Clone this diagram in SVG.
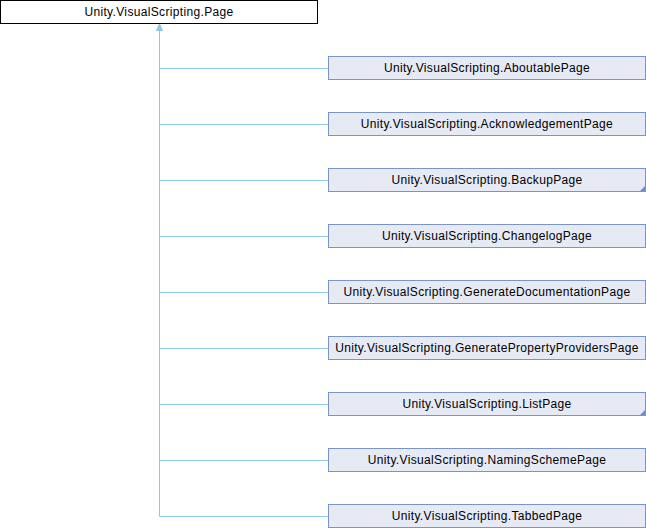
<svg xmlns="http://www.w3.org/2000/svg" width="646" height="528" viewBox="0 0 646 528">
<style>
.n rect{fill:#e6eaf5;stroke:#7a93c9;stroke-width:1}
.root rect{fill:#ffffff;stroke:#000000;stroke-width:1}
text{font-family:"Liberation Sans",Arial,sans-serif;font-size:12px;letter-spacing:0.34px;fill:#000;text-anchor:middle}
.e{fill:none;stroke:#8cc7e8;stroke-width:1}
.mark{fill:#6f8cc8}
</style>
<rect width="646" height="528" fill="#ffffff"/>
<g id="connectors">
<path class="e" d="M159.5,30 V516.5"/>
<path class="e" d="M159.5,68.5 H328"/>
<path class="e" d="M159.5,124.5 H328"/>
<path class="e" d="M159.5,180.5 H328"/>
<path class="e" d="M159.5,236.5 H328"/>
<path class="e" d="M159.5,292.5 H328"/>
<path class="e" d="M159.5,348.5 H328"/>
<path class="e" d="M159.5,404.5 H328"/>
<path class="e" d="M159.5,460.5 H328"/>
<path class="e" d="M159.5,516.5 H328"/>
<polygon points="159.5,24 156.5,30.5 162.5,30.5" fill="#8cc7e8" stroke="#8cc7e8" stroke-width="1"/>
</g>
<g id="Page" class="root"><rect x="0.5" y="0.5" width="317" height="23"/><text x="159" y="16">Unity.VisualScripting.Page</text></g>
<g id="AboutablePage" class="n"><rect x="328.5" y="56.5" width="317" height="23"/><text x="487" y="72">Unity.VisualScripting.AboutablePage</text></g>
<g id="AcknowledgementPage" class="n"><rect x="328.5" y="112.5" width="317" height="23"/><text x="487" y="128">Unity.VisualScripting.AcknowledgementPage</text></g>
<g id="BackupPage" class="n"><rect x="328.5" y="168.5" width="317" height="23"/><text x="487" y="184">Unity.VisualScripting.BackupPage</text><polygon class="mark" points="645,186 645,191 640,191"/></g>
<g id="ChangelogPage" class="n"><rect x="328.5" y="224.5" width="317" height="23"/><text x="487" y="240">Unity.VisualScripting.ChangelogPage</text></g>
<g id="GenerateDocumentationPage" class="n"><rect x="328.5" y="280.5" width="317" height="23"/><text x="487" y="296">Unity.VisualScripting.GenerateDocumentationPage</text></g>
<g id="GeneratePropertyProvidersPage" class="n"><rect x="328.5" y="336.5" width="317" height="23"/><text x="487" y="352">Unity.VisualScripting.GeneratePropertyProvidersPage</text></g>
<g id="ListPage" class="n"><rect x="328.5" y="392.5" width="317" height="23"/><text x="487" y="408">Unity.VisualScripting.ListPage</text><polygon class="mark" points="645,410 645,415 640,415"/></g>
<g id="NamingSchemePage" class="n"><rect x="328.5" y="448.5" width="317" height="23"/><text x="487" y="464">Unity.VisualScripting.NamingSchemePage</text></g>
<g id="TabbedPage" class="n"><rect x="328.5" y="504.5" width="317" height="23"/><text x="487" y="520">Unity.VisualScripting.TabbedPage</text></g>
</svg>
